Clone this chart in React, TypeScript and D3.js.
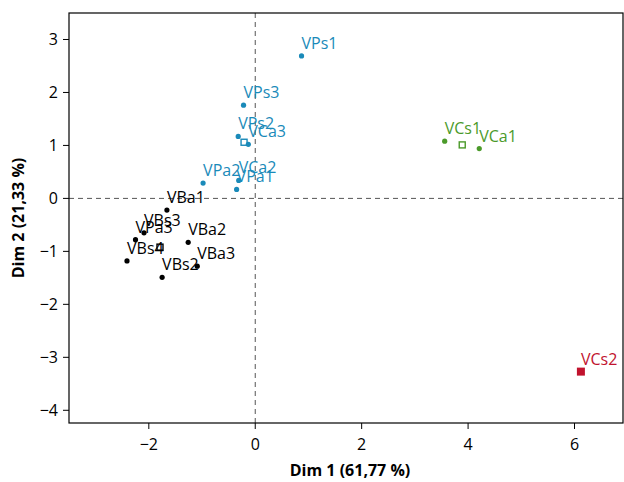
import React from "react";
import * as d3 from "d3";

const names = ["VPs1", "VPs3", "VPs2", "VCa3", "VPa2", "VCa2", "VPa1", "VBa1", "VBs3", "VPa3", "VBa2", "VBs4", "VBa3", "VBs2", "VCs1", "VCa1", "VCs2"];
const dim1 = [0.87, -0.22, -0.32, -0.13, -0.98, -0.31, -0.35, -1.66, -2.09, -2.25, -1.26, -2.41, -1.09, -1.75, 3.56, 4.21, 6.12];
const dim2 = [2.69, 1.76, 1.17, 1.02, 0.29, 0.34, 0.17, -0.22, -0.65, -0.78, -0.83, -1.18, -1.28, -1.49, 1.08, 0.94, -3.27];
const groups = ["P", "P", "P", "P", "P", "P", "P", "B", "B", "B", "B", "B", "B", "B", "G", "G", "R"];

const centroidGroups = ["P", "B", "G", "R"];
const centroidDim1 = [-0.21, -1.79, 3.89, 6.12];
const centroidDim2 = [1.06, -0.92, 1.01, -3.27];

const xTicks = [-2, 0, 2, 4, 6];
const yTicks = [3, 2, 1, 0, -1, -2, -3, -4];

const colors: Record<string, string> = { P: "#1a8ab9", B: "#000000", G: "#4b9a2a", R: "#c1132e" };

const W = 624, H = 482;
const left = 69, right = 623, top = 13, bottom = 423;
const FONT = "'Open Sans', 'DejaVu Sans', sans-serif";

export default function App() {
  const x = d3.scaleLinear().domain([-3.5, 6.93]).range([left, 624]);
  const y = d3.scaleLinear().domain([-4.24, 3.5]).range([bottom, top]);
  const fmt = (v: number) => (v < 0 ? "\u2212" + Math.abs(v) : String(v));

  return (
    <svg width={W} height={H} style={{ position: "absolute", left: 0, top: 0, background: "#fff" }} fontFamily={FONT}>
      <rect x={0} y={0} width={W} height={H} fill="#fff" />
      {/* reference lines */}
      <line x1={x(0)} x2={x(0)} y1={top} y2={bottom} stroke="#555" strokeDasharray="5,4" strokeWidth={1} />
      <line x1={left} x2={right} y1={y(0)} y2={y(0)} stroke="#555" strokeDasharray="5,4" strokeWidth={1} />
      {/* frame */}
      <rect x={left} y={top} width={right - left} height={bottom - top} fill="none" stroke="#000" strokeWidth={1.2} />
      {/* x ticks */}
      {xTicks.map((t) => (
        <g key={"x" + t}>
          <line x1={x(t)} x2={x(t)} y1={bottom} y2={bottom + 6} stroke="#000" />
          <text x={x(t)} y={bottom + 27} textAnchor="middle" fontSize={16} fill="#000">{fmt(t)}</text>
        </g>
      ))}
      {yTicks.map((t) => (
        <g key={"y" + t}>
          <line x1={left - 6} x2={left} y1={y(t)} y2={y(t)} stroke="#000" />
          <text x={left - 11} y={y(t) + 6} textAnchor="end" fontSize={16} fill="#000">{fmt(t)}</text>
        </g>
      ))}
      <text x={(left + right) / 2 + 4} y={476} textAnchor="middle" fontSize={16} fontWeight="bold" fill="#000">Dim 1 (61,77 %)</text>
      <text transform={`translate(24,${(top + bottom) / 2}) rotate(-90)`} textAnchor="middle" fontSize={16} fontWeight="bold" fill="#000">Dim 2 (21,33 %)</text>
      {/* centroids */}
      {centroidGroups.map((g, i) =>
        g === "R" ? (
          <rect key={"c" + g} x={x(centroidDim1[i]) - 4} y={y(centroidDim2[i]) - 4} width={8} height={8} fill={colors[g]} />
        ) : (
          <rect key={"c" + g} x={x(centroidDim1[i]) - 3} y={y(centroidDim2[i]) - 3} width={6} height={6} fill="none" stroke={colors[g]} strokeWidth={1.4} />
        )
      )}
      {/* points */}
      {names.map((n, i) => (
        <circle key={"p" + n} cx={x(dim1[i])} cy={y(dim2[i])} r={2.6} fill={colors[groups[i]]} />
      ))}
      {names.map((n, i) => (
        <text key={"l" + n} x={x(dim1[i])} y={y(dim2[i]) - 7} fontSize={16} fill={colors[groups[i]]}>{n}</text>
      ))}
    </svg>
  );
}
